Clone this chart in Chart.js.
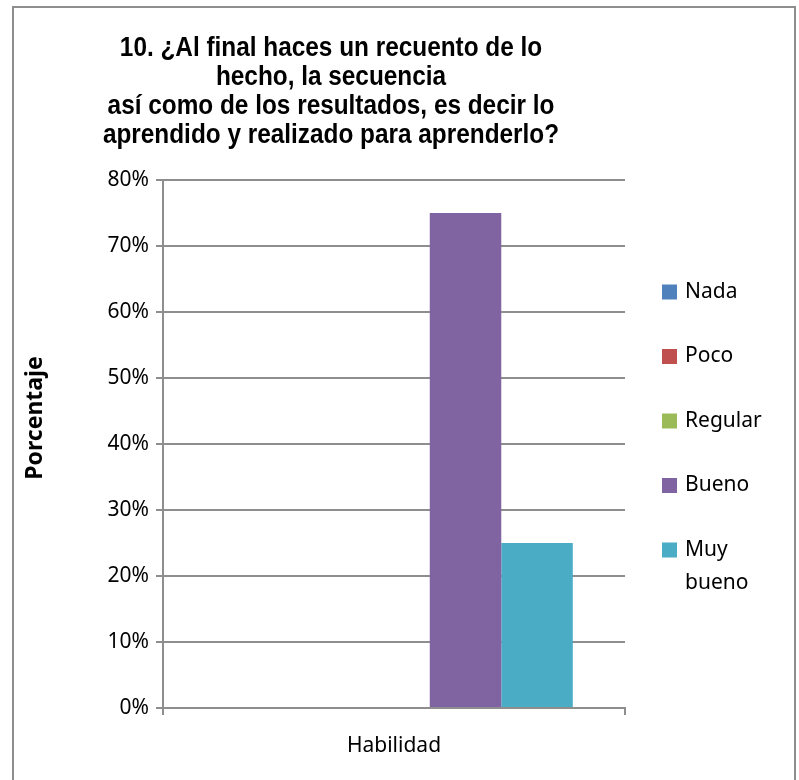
<!DOCTYPE html>
<html lang="es">
<head>
<meta charset="utf-8">
<title>Recuento de lo aprendido</title>
<script src="https://cdn.jsdelivr.net/npm/chart.js@4.4.0/dist/chart.umd.min.js"></script>
<style>
  html, body { margin: 0; padding: 0; background: #fff; }
  #chart { display: block; }
</style>
</head>
<body>
<canvas id="chart" width="799" height="780"></canvas>
<script>
const categories = ['Habilidad'];
const seriesNames = ['Nada', 'Poco', 'Regular', 'Bueno', 'Muy bueno'];
const seriesValues = [[0], [0], [0], [75], [25]];
const seriesColors = ['#4f81bd', '#c0504d', '#9bbb59', '#8064a2', '#4bacc6'];
const yTickMax = 80;
const yTickStep = 10;
const titleLines = [
  '10. ¿Al final haces un recuento de lo',
  'hecho, la secuencia',
  'así como de los resultados, es decir lo',
  'aprendido y realizado para aprenderlo?'
];
const yAxisTitle = 'Porcentaje';

const LINE_GRAY = '#8e8e8e';
const BODY_FONT = "'Noto Sans', 'Open Sans', sans-serif";
const TITLE_FONT = "'Liberation Sans', Arial, sans-serif";

// Frame, title, rotated axis title and the wrapped legend on the right.
const sheetDecor = {
  id: 'sheetDecor',
  afterDraw(chart) {
    const ctx = chart.ctx;
    ctx.save();

    ctx.strokeStyle = LINE_GRAY;
    ctx.lineWidth = 2;
    ctx.strokeRect(13, 7, 782, 820);

    // title is a tall bold face squeezed horizontally
    ctx.fillStyle = '#000';
    ctx.textAlign = 'center';
    ctx.textBaseline = 'alphabetic';
    ctx.font = `bold 28px ${TITLE_FONT}`;
    titleLines.forEach((line, i) => {
      ctx.save();
      ctx.translate(331, 56 + i * 29);
      ctx.scale(0.87, 1);
      ctx.fillText(line, 0, 0);
      ctx.restore();
    });

    ctx.save();
    ctx.translate(35, 418);
    ctx.rotate(-Math.PI / 2);
    ctx.font = `bold 23px ${BODY_FONT}`;
    ctx.textBaseline = 'middle';
    ctx.fillText(yAxisTitle, 0, 0);
    ctx.restore();

    ctx.font = `21px ${BODY_FONT}`;
    ctx.textAlign = 'left';
    ctx.textBaseline = 'middle';
    chart.data.datasets.forEach((ds, i) => {
      const cy = 292 + i * 64.5;
      ctx.fillStyle = ds.backgroundColor;
      ctx.fillRect(662, cy - 7.5, 15, 15);
      ctx.fillStyle = '#000';
      const words = ds.label.split(' ');
      const lines = [];
      let current = '';
      words.forEach((w) => {
        const test = current ? `${current} ${w}` : w;
        if (current && ctx.measureText(test).width > 95) {
          lines.push(current);
          current = w;
        } else {
          current = test;
        }
      });
      lines.push(current);
      lines.forEach((line, j) => {
        ctx.fillText(line, 685, cy + j * 33);
      });
    });

    ctx.restore();
  }
};

new Chart(document.getElementById('chart'), {
  type: 'bar',
  data: {
    labels: categories,
    datasets: seriesNames.map((name, i) => ({
      label: name,
      data: seriesValues[i],
      backgroundColor: seriesColors[i],
      borderWidth: 0,
      categoryPercentage: 0.774,
      barPercentage: 1.0
    }))
  },
  options: {
    responsive: false,
    animation: false,
    devicePixelRatio: 1,
    layout: { padding: { top: 180, right: 174, bottom: 0, left: 0 } },
    plugins: {
      legend: { display: false },
      title: { display: false },
      tooltip: { enabled: false }
    },
    scales: {
      x: {
        grid: {
          offset: true,
          drawOnChartArea: false,
          drawTicks: true,
          tickLength: 7,
          color: LINE_GRAY,
          lineWidth: 2
        },
        border: { color: LINE_GRAY, width: 2 },
        ticks: { color: '#000', font: { family: BODY_FONT, size: 21 }, padding: 18 },
        afterFit(scale) { scale.height = 72; }
      },
      y: {
        min: 0,
        max: yTickMax,
        ticks: {
          stepSize: yTickStep,
          color: '#000',
          font: { family: BODY_FONT, size: 21 },
          padding: 7,
          callback: (v) => `${v}%`
        },
        grid: { color: LINE_GRAY, lineWidth: 2, tickLength: 7 },
        border: { color: LINE_GRAY, width: 2 },
        afterFit(scale) { scale.width = 163; }
      }
    }
  },
  plugins: [sheetDecor]
});
</script>
</body>
</html>
